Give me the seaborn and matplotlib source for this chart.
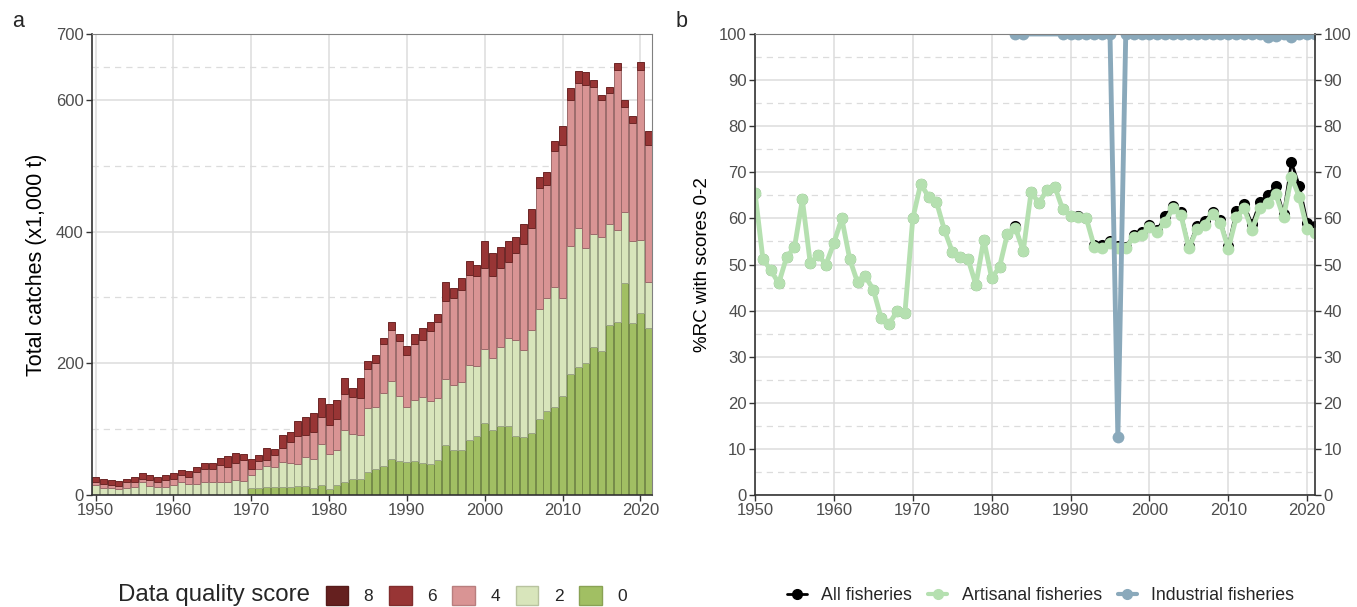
import numpy as np
import pandas as pd
import matplotlib
matplotlib.use("Agg")
import matplotlib.pyplot as plt
import matplotlib.colors as mcolors
from matplotlib.patches import Patch
from matplotlib.lines import Line2D
import seaborn as sns

#Data - panel a: catches (x1,000 t) by data quality score
years = list(range(1950, 2022))
score0 = [0, 0, 0, 0, 0, 0, 0, 0, 0, 0,
          0, 0, 0, 0, 0, 0, 0, 0, 0, 0,
          10, 10, 12, 12, 12, 12, 13, 13, 10, 15,
          9, 15, 19, 24, 24, 35, 39, 44, 54, 51,
          50, 51, 48, 47, 53, 76, 68, 68, 84, 90,
          109, 99, 105, 105, 90, 88, 94, 116, 127, 134,
          151, 184, 195, 201, 224, 218, 258, 262, 322, 261,
          276, 253]
score2 = [15, 11, 10, 9, 11, 12, 19, 14, 12, 12,
          15, 20, 17, 17, 20, 19, 19, 20, 23, 22,
          20, 29, 32, 31, 38, 36, 34, 45, 44, 63,
          53, 54, 80, 68, 67, 97, 94, 111, 119, 99,
          84, 93, 101, 96, 94, 100, 99, 104, 113, 106,
          112, 109, 119, 133, 146, 132, 157, 167, 172, 182,
          148, 194, 210, 174, 173, 173, 154, 141, 108, 124,
          111, 71]
score4 = [5, 6, 5, 5, 8, 8, 6, 9, 8, 11,
          10, 10, 10, 18, 20, 20, 26, 23, 25, 31,
          9, 12, 9, 18, 21, 32, 42, 33, 41, 41,
          44, 46, 54, 57, 56, 59, 68, 75, 78, 84,
          79, 85, 87, 106, 116, 118, 132, 140, 137, 136,
          123, 124, 120, 116, 131, 161, 154, 183, 172, 206,
          232, 222, 220, 248, 223, 209, 198, 242, 159, 180,
          259, 207]
score6 = [7, 7, 8, 8, 6, 7, 8, 7, 8, 7,
          8, 8, 10, 7, 9, 10, 11, 16, 16, 9,
          15, 10, 19, 9, 20, 15, 23, 27, 29, 28,
          32, 30, 25, 13, 30, 13, 12, 8, 11, 11,
          13, 15, 17, 13, 12, 30, 15, 17, 22, 18,
          41, 35, 32, 32, 25, 30, 30, 17, 20, 16,
          29, 18, 19, 19, 10, 7, 10, 11, 11, 10,
          12, 21]

#Data - panel b: % of reconstructed catch with scores 0-2
artisanal = [65.6, 51.1, 48.8, 45.9, 51.6, 53.7, 64.1, 50.3, 52.0, 50.0,
             54.7, 60.0, 51.2, 46.1, 47.4, 44.5, 38.3, 37.1, 39.9, 39.4,
             60.0, 67.5, 64.7, 63.6, 57.5, 52.8, 51.7, 51.2, 45.6, 55.4,
             47.0, 49.5, 56.7, 58.0, 52.9, 65.7, 63.3, 66.2, 66.9, 62.0,
             60.6, 60.2, 60.0, 53.9, 53.5, 54.6, 53.6, 53.5, 56.0, 56.4,
             58.2, 57.0, 59.3, 62.2, 60.7, 53.5, 57.6, 58.6, 61.0, 59.1,
             53.4, 60.2, 62.2, 57.5, 62.2, 63.3, 65.4, 60.2, 69.0, 64.7,
             57.6, 56.9]
all_fisheries = [65.6, 51.1, 48.8, 45.9, 51.6, 53.7, 64.1, 50.3, 52.0, 50.0,
                 54.7, 60.0, 51.2, 46.1, 47.4, 44.5, 38.3, 37.1, 39.9, 39.4,
                 60.0, 67.5, 64.7, 63.6, 57.5, 52.8, 51.7, 51.2, 45.6, 55.4,
                 47.0, 49.5, 56.7, 58.4, 52.9, 65.7, 63.3, 66.2, 66.9, 62.0,
                 60.6, 60.5, 60.0, 54.2, 54.2, 55.2, 54.0, 53.8, 56.5, 57.0,
                 58.5, 57.5, 60.5, 62.7, 61.3, 54.0, 58.3, 59.5, 61.3, 59.6,
                 54.0, 61.7, 63.2, 58.7, 63.6, 65.1, 67.0, 61.0, 72.2, 67.1,
                 59.1, 58.4]
industrial = ([np.nan] * 33                                  # 1950-1982
              + [100, 100, np.nan, np.nan, np.nan, np.nan]   # 1983-1988
              + [100, 100, 100, 100, 100, 100, 100]          # 1989-1995
              + [12.5]                                       # 1996
              + [100, 100, 100, 100, 100, 100, 100, 100, 100, 100,
                 100, 100, 100, 100, 100, 100, 100, 100, 99.3, 99.5,
                 100, 99.4, 100, 100, 100])                  # 1997-2021

score_labels = ["8", "6", "4", "2", "0"]
score_colors = ["#65201f", "#983535", "#d99494", "#d8e5bb", "#a1bf63"]

df = pd.DataFrame({"year": years, "0": score0, "2": score2, "4": score4, "6": score6})
long_df = df.melt(id_vars="year", var_name="score", value_name="catch")

sns.set_style("white")
plt.rcParams["font.family"] = ["Liberation Sans", "DejaVu Sans"]

fig = plt.figure(figsize=(13.57, 6.07), dpi=100)
ax_a = fig.add_axes([0.0678, 0.1845, 0.4127, 0.7595])
ax_b = fig.add_axes([0.5564, 0.1845, 0.4127, 0.7595])

tick_gray = "#4d4d4d"

#Panel a - stacked bars
pal = dict(zip(score_labels, score_colors))
sns.histplot(data=long_df, x="year", weights="catch", hue="score",
             hue_order=["6", "4", "2", "0"], multiple="stack", discrete=True,
             shrink=0.9, palette=pal, alpha=1, legend=False, ax=ax_a)
for p in ax_a.patches:
    fc = np.array(mcolors.to_rgb(p.get_facecolor()))
    p.set_edgecolor(tuple(fc * 0.72))
    p.set_linewidth(0.7)

ax_a.set_xlim(1949.55, 2021.5)
ax_a.set_ylim(0, 700)
ax_a.set_yticks([0, 200, 400, 600, 700])
ax_a.set_yticks([100, 300, 500, 650], minor=True)
ax_a.set_xticks(range(1950, 2021, 10))
ax_a.set_xlabel("")
ax_a.set_ylabel("Total catches (x1,000 t)", fontsize=15.5, color="black", labelpad=6)
ax_a.set_yticklabels(["0", "200", "400", "600", "700"])

#Panel b - lines
sns.lineplot(x=years, y=all_fisheries, color="black", marker="o", markersize=8,
             markeredgewidth=0, linewidth=2, ax=ax_b)
sns.lineplot(x=years, y=artisanal, color="#b5e0b0", marker="o", markersize=8.5,
             markeredgewidth=0, linewidth=3.5, ax=ax_b)
sns.lineplot(x=years, y=industrial, color="#8aa9bb", marker="o", markersize=8.5,
             markeredgewidth=0, linewidth=3.5, ax=ax_b)
ax_b.set_xlim(1950, 2021)
ax_b.set_ylim(0, 100)
ax_b.set_yticks(range(0, 101, 10))
ax_b.set_yticks(range(5, 100, 10), minor=True)
ax_b.set_xticks(range(1950, 2021, 10))
ax_b.set_ylabel("%RC with scores 0-2", fontsize=13.5, color="black", labelpad=6)
ax_b.tick_params(axis="y", which="both", right=True, labelright=True)

for ax in (ax_a, ax_b):
    ax.set_axisbelow(True)
    ax.grid(True, which="major", color="#dcdcdc", linewidth=1.1, linestyle="-")
    ax.grid(True, which="minor", axis="y", color="#dcdcdc", linewidth=0.9, linestyle=(0, (5, 4)))
    ax.tick_params(axis="both", which="major", labelsize=12, labelcolor=tick_gray,
                   length=4, width=1, color="#333333", direction="out", bottom=True, left=True, pad=2)
    ax.tick_params(axis="both", which="minor", length=0)
    for side in ["top", "right"]:
        ax.spines[side].set_color("#808080")
        ax.spines[side].set_linewidth(0.8)
    for side in ["left", "bottom"]:
        ax.spines[side].set_color("#333333")
        ax.spines[side].set_linewidth(1.2)
ax_b.spines["right"].set_color("#333333")
ax_b.spines["right"].set_linewidth(1.2)

#Panel labels
fig.text(0.009, 0.955, "a", fontsize=15.5)
fig.text(0.498, 0.955, "b", fontsize=15.5)

#Legend a
fig.text(0.087, 0.019, "Data quality score", fontsize=17.3, va="center", ha="left")
handles_a = [Patch(facecolor=c, edgecolor=tuple(np.array(mcolors.to_rgb(c)) * 0.85))
             for c in score_colors]
fig.legend(handles_a, score_labels, loc="center", bbox_to_anchor=(0.351, 0.019), ncol=5,
           frameon=False, fontsize=12.5, handlelength=1.3, handleheight=1.3,
           handletextpad=0.9, columnspacing=0.9)

#Legend b
handles_b = [Line2D([], [], color="black", marker="o", markersize=7, linewidth=2),
             Line2D([], [], color="#b5e0b0", marker="o", markersize=7, linewidth=3),
             Line2D([], [], color="#8aa9bb", marker="o", markersize=7, linewidth=3)]
fig.legend(handles_b, ["All fisheries", "Artisanal fisheries", "Industrial fisheries"],
           loc="center", bbox_to_anchor=(0.767, 0.019), ncol=3, frameon=False,
           fontsize=12.8, handlelength=1.1, handletextpad=0.8, columnspacing=0.9)

fig.savefig("out.png", dpi=100)
